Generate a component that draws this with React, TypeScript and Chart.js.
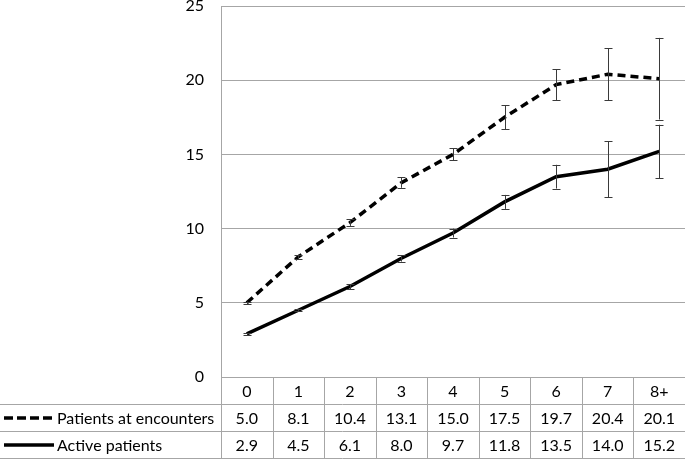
import React, { useEffect, useRef } from "react";
import { Chart, registerables } from "chart.js";

Chart.register(...registerables);

const categories = ["0", "1", "2", "3", "4", "5", "6", "7", "8+"];
const encountersLabel = "Patients at encounters";
const activeLabel = "Active patients";
const encountersValues = [5.0, 8.1, 10.4, 13.1, 15.0, 17.5, 19.7, 20.4, 20.1];
const activeValues = [2.9, 4.5, 6.1, 8.0, 9.7, 11.8, 13.5, 14.0, 15.2];
const encountersErr = [0.08, 0.15, 0.22, 0.35, 0.4, 0.8, 1.05, 1.75, 2.75];
const activeErr = [0.05, 0.08, 0.17, 0.22, 0.3, 0.47, 0.8, 1.9, 1.8];
const yTicks = [0, 5, 10, 15, 20, 25];

const FONT = "Lato, 'Open Sans', sans-serif";
const GRID = "#a6a6a6";
const DASH = [8, 5];

const errorBarPlugin = {
  id: "errorBars",
  afterDatasetsDraw(chart: any) {
    const ctx = chart.ctx;
    const x = chart.scales.x;
    const y = chart.scales.y;
    const errs = [encountersErr, activeErr];
    ctx.save();
    ctx.strokeStyle = "#3a3a3a";
    ctx.lineWidth = 1;
    chart.data.datasets.forEach((ds: any, di: number) => {
      ds.data.forEach((v: number, i: number) => {
        const e = errs[di][i];
        const px = Math.round(x.getPixelForValue(i)) + 0.5;
        const top = y.getPixelForValue(v + e);
        const bot = y.getPixelForValue(v - e);
        ctx.beginPath();
        ctx.moveTo(px, top);
        ctx.lineTo(px, bot);
        ctx.moveTo(px - 4, Math.round(top) + 0.5);
        ctx.lineTo(px + 4, Math.round(top) + 0.5);
        ctx.moveTo(px - 4, Math.round(bot) + 0.5);
        ctx.lineTo(px + 4, Math.round(bot) + 0.5);
        ctx.stroke();
      });
    });
    ctx.restore();
  },
};

const tablePlugin = {
  id: "dataTable",
  afterDraw(chart: any) {
    const ctx = chart.ctx;
    const area = chart.chartArea;
    const x = chart.scales.x;
    const n = categories.length;
    const cw = (area.right - area.left) / n;
    const top = Math.round(area.bottom);
    const bottom = chart.height - 1;
    const rh = (bottom - top) / 3;
    const rowsY = [top, top + rh, top + 2 * rh, bottom].map((v) => Math.round(v) + 0.5);
    ctx.save();
    ctx.strokeStyle = GRID;
    ctx.lineWidth = 1;
    ctx.beginPath();
    ctx.moveTo(area.left, rowsY[0]);
    ctx.lineTo(chart.width, rowsY[0]);
    for (let r = 1; r < 4; r++) {
      ctx.moveTo(0, rowsY[r]);
      ctx.lineTo(chart.width, rowsY[r]);
    }
    for (let c = 0; c <= n; c++) {
      const vx = Math.round(area.left + c * cw) + 0.5;
      ctx.moveTo(vx, rowsY[0]);
      ctx.lineTo(vx, rowsY[3]);
    }
    ctx.stroke();

    ctx.fillStyle = "#000";
    ctx.font = `16px ${FONT}`;
    ctx.textBaseline = "middle";
    ctx.textAlign = "center";
    const rowData = [categories, encountersValues.map((v) => v.toFixed(1)), activeValues.map((v) => v.toFixed(1))];
    rowData.forEach((row, r) => {
      const cy = (rowsY[r] + rowsY[r + 1]) / 2 + 1;
      row.forEach((t, i) => {
        ctx.fillText(String(t), x.getPixelForValue(i), cy);
      });
    });

    const labels = [encountersLabel, activeLabel];
    labels.forEach((lab, k) => {
      const cy = (rowsY[k + 1] + rowsY[k + 2]) / 2;
      ctx.save();
      ctx.strokeStyle = "#000";
      ctx.lineWidth = 3.5;
      ctx.lineCap = "butt";
      ctx.setLineDash(k === 0 ? [9, 4] : []);
      ctx.beginPath();
      ctx.moveTo(4, cy);
      ctx.lineTo(54, cy);
      ctx.stroke();
      ctx.restore();
      ctx.textAlign = "left";
      ctx.fillText(lab, 57, cy + 1);
    });
    ctx.restore();
  },
};

export default function App() {
  const ref = useRef<HTMLCanvasElement>(null);
  useEffect(() => {
    if (!ref.current) return;
    const chart = new Chart(ref.current, {
      type: "line",
      data: {
        labels: categories,
        datasets: [
          {
            label: encountersLabel,
            data: encountersValues,
            borderColor: "#000",
            borderWidth: 3.5,
            borderDash: DASH,
            borderCapStyle: "butt",
            pointRadius: 0,
            tension: 0,
            fill: false,
          },
          {
            label: activeLabel,
            data: activeValues,
            borderColor: "#000",
            borderWidth: 3.5,
            pointRadius: 0,
            tension: 0,
            fill: false,
          },
        ],
      },
      options: {
        animation: false,
        responsive: false,
        maintainAspectRatio: false,
        layout: { padding: { top: 6, bottom: 82, left: 0, right: 0 } },
        plugins: { legend: { display: false }, tooltip: { enabled: false } },
        scales: {
          x: {
            display: false,
            offset: true,
            grid: { display: false },
          },
          y: {
            min: 0,
            max: 25,
            afterBuildTicks: (s: any) => {
              s.ticks = yTicks.map((v) => ({ value: v }));
            },
            afterFit: (s: any) => {
              s.width = 221;
              s.paddingTop = 0;
              s.paddingBottom = 0;
            },
            grid: { color: GRID, lineWidth: 1, drawTicks: false },
            border: { display: true, color: GRID, width: 1 },
            ticks: {
              color: "#000",
              padding: 17,
              font: { family: FONT, size: 16 },
            },
          },
        },
      },
      plugins: [errorBarPlugin, tablePlugin],
    } as any);
    return () => chart.destroy();
  }, []);
  return (
    <div style={{ position: "fixed", left: 0, top: 0, width: 685, height: 459 }}>
      <canvas ref={ref} width={685} height={459} style={{ width: 685, height: 459 }} />
    </div>
  );
}
